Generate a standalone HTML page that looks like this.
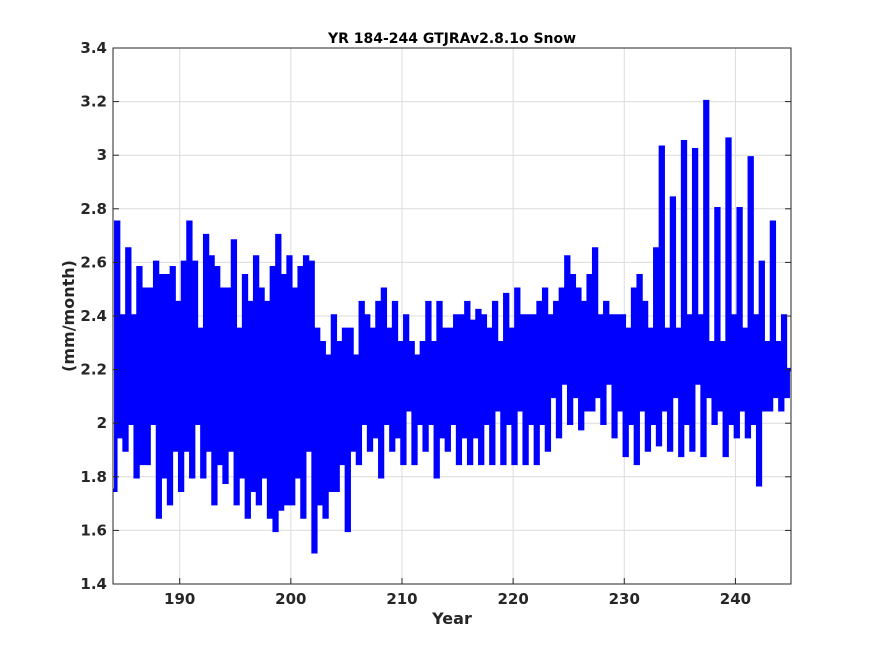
<!DOCTYPE html>
<html><head><meta charset="utf-8"><style>
body{margin:0;background:#fff;}
svg{display:block;font-family:"DejaVu Sans","Liberation Sans",sans-serif;}
</style></head><body>
<svg id="chart" width="875" height="656">
<rect width="875" height="656" fill="#fff"/>
<rect x="113" y="48" width="678" height="536" fill="#fff"/>
<g id="grid"></g><g id="series"></g><g id="axes"></g>
<text x="452" y="43" text-anchor="middle" font-size="14" font-weight="bold" fill="#000">YR 184-244 GTJRAv2.8.1o Snow</text>
<text x="452" y="624" text-anchor="middle" font-size="16" font-weight="bold" fill="#262626">Year</text>
<text transform="translate(74,316) rotate(-90)" text-anchor="middle" font-size="16" font-weight="bold" fill="#262626">(mm/month)</text>
</svg>
<script>
const xTicks=[190,200,210,220,230,240];
const yTicks=[1.4,1.6,1.8,2,2.2,2.4,2.6,2.8,3,3.2,3.4];
const yTickLabels=["1.4","1.6","1.8","2","2.2","2.4","2.6","2.8","3","3.2","3.4"];
const startYear=184, step=0.25;
const snow=[
1.75,2.75,1.95,2.4, 1.9,2.65,2.0,2.4, 1.8,2.58,1.85,2.5, 1.85,2.5,2.0,2.6,
1.65,2.55,1.8,2.55, 1.7,2.58,1.9,2.45, 1.75,2.6,1.9,2.75, 1.8,2.6,2.0,2.35,
1.8,2.7,1.9,2.62, 1.7,2.58,1.85,2.5, 1.78,2.5,1.9,2.68, 1.7,2.35,1.8,2.55,
1.65,2.45,1.75,2.62, 1.7,2.5,1.8,2.45, 1.65,2.58,1.6,2.7, 1.68,2.55,1.7,2.62,
1.7,2.5,1.8,2.58, 1.65,2.62,1.9,2.6, 1.52,2.35,1.7,2.3, 1.65,2.25,1.75,2.4,
1.75,2.3,1.85,2.35, 1.6,2.35,1.9,2.25, 1.85,2.45,2.0,2.4, 1.9,2.35,1.95,2.45,
1.8,2.5,2.0,2.35, 1.9,2.45,1.95,2.3, 1.85,2.4,2.05,2.3, 1.85,2.25,2.0,2.3,
1.9,2.45,2.0,2.3, 1.8,2.45,1.95,2.35, 1.9,2.35,2.0,2.4, 1.85,2.4,1.95,2.45,
1.85,2.38,1.95,2.42, 1.85,2.4,2.0,2.35, 1.85,2.45,2.05,2.3, 1.85,2.48,2.0,2.35,
1.85,2.5,2.05,2.4, 1.85,2.4,2.0,2.4, 1.85,2.45,2.0,2.5, 1.9,2.4,2.1,2.45,
1.95,2.5,2.15,2.62, 2.0,2.55,2.1,2.5, 1.98,2.45,2.05,2.55, 2.05,2.65,2.1,2.4,
2.0,2.45,2.15,2.4, 1.95,2.4,2.05,2.4, 1.88,2.35,2.0,2.5, 1.85,2.55,2.05,2.45,
1.9,2.35,2.0,2.65, 1.92,3.03,2.05,2.35, 1.9,2.84,2.1,2.35, 1.88,3.05,2.0,2.4,
1.9,3.02,2.15,2.4, 1.88,3.2,2.1,2.3, 2.0,2.8,2.05,2.3, 1.88,3.06,2.0,2.4,
1.95,2.8,2.05,2.35, 1.95,2.99,2.0,2.4, 1.77,2.6,2.05,2.3, 2.05,2.75,2.1,2.3,
2.05,2.4,2.1,2.2];
const L=113,R=791,T=48,B=584,xmin=184,xmax=245,ymin=1.4,ymax=3.4;
const xs=v=>L+(v-xmin)/(xmax-xmin)*(R-L);
const ys=v=>B-(v-ymin)/(ymax-ymin)*(B-T);
const NS="http://www.w3.org/2000/svg";
function mk(tag,attrs,parent){const e=document.createElementNS(NS,tag);for(const k in attrs)e.setAttribute(k,attrs[k]);parent.appendChild(e);return e;}
const grid=document.getElementById('grid'),axes=document.getElementById('axes'),series=document.getElementById('series');
xTicks.forEach(t=>{const g=mk('line',{x1:xs(t),x2:xs(t),y1:T,y2:B,stroke:'#dcdcdc','stroke-width':1},grid);

});
yTicks.forEach(t=>{const g=mk('line',{x1:L,x2:R,y1:ys(t),y2:ys(t),stroke:'#dcdcdc','stroke-width':1},grid);

});
let d='';snow.forEach((v,i)=>{const x=xs(startYear+i*step).toFixed(1),y=ys(v).toFixed(1);
d+= i? ('H'+x+'V'+y) : ('M'+x+','+y);});
d+='H'+xs(xmax).toFixed(1);
const p=mk('path',{d:d,fill:'none',stroke:'#0000ff','stroke-width':3.5,'stroke-linejoin':'miter'},series);


const f=mk('rect',{x:L,y:T,width:R-L,height:B-T,fill:'none',stroke:'#262626','stroke-width':1},axes);


xTicks.forEach(t=>{
mk('line',{x1:xs(t),x2:xs(t),y1:B,y2:B-6,stroke:'#262626'},axes);
const tx=mk('text',{x:xs(t),y:B+20,'text-anchor':'middle','font-size':15,'font-weight':'bold',fill:'#262626'},axes);
tx.textContent=t;

});
yTicks.forEach((t,i)=>{
mk('line',{x1:L,x2:L+6,y1:ys(t),y2:ys(t),stroke:'#262626'},axes);
mk('line',{x1:R,x2:R-6,y1:ys(t),y2:ys(t),stroke:'#262626'},axes);
const tx=mk('text',{x:L-6,y:ys(t)+5,'text-anchor':'end','font-size':15,'font-weight':'bold',fill:'#262626'},axes);
tx.textContent=yTickLabels[i];

});
</script>
</body></html>
